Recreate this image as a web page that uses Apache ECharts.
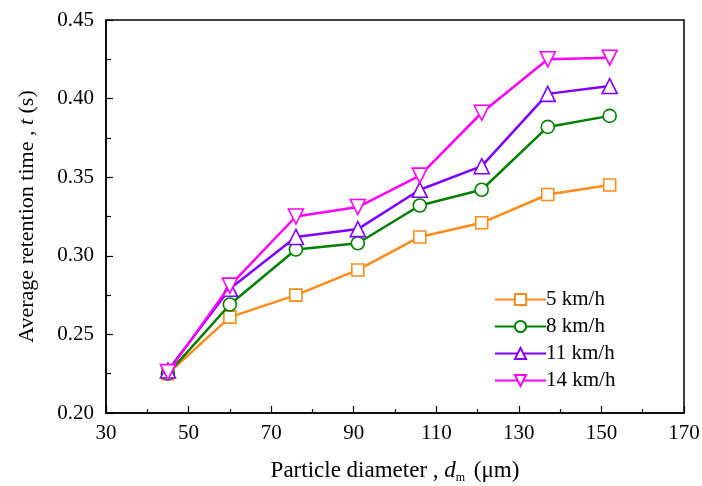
<!DOCTYPE html>
<html>
<head>
<meta charset="utf-8">
<script src="https://cdn.jsdelivr.net/npm/echarts@6/dist/echarts.min.js"></script>
<style>
html,body{margin:0;padding:0;background:#fff;}
#chart{width:702px;height:486px;}
</style>
</head>
<body>
<div id="chart"></div>
<script>
const diameters = [45, 60, 76, 91, 106, 121, 137, 152];
const seriesNames = ['5 km/h', '8 km/h', '11 km/h', '14 km/h'];
const v5  = [0.225, 0.261, 0.275, 0.291, 0.312, 0.321, 0.339, 0.345];
const v8  = [0.225, 0.269, 0.304, 0.308, 0.332, 0.342, 0.382, 0.389];
const v11 = [0.227, 0.279, 0.312, 0.317, 0.342, 0.357, 0.403, 0.408];
const v14 = [0.226, 0.281, 0.325, 0.331, 0.351, 0.391, 0.425, 0.426];
const xTicks = [30, 50, 70, 90, 110, 130, 150, 170];
const yTicks = [0.20, 0.25, 0.30, 0.35, 0.40, 0.45];

const FONT = '"Liberation Serif", "Times New Roman", serif';
const colors = ['#FF8C1A', '#008000', '#8000FF', '#FF00FF'];
const symbols = ['rect', 'circle', 'triangle', 'triangle'];
const sizes = [12, 13, 15, 15];
const rotates = [0, 0, 0, 180];
const values = [v5, v8, v11, v14];

const series = values.map((vals, i) => ({
  name: seriesNames[i],
  type: 'line',
  data: diameters.map((d, j) => [d, vals[j]]),
  symbol: symbols[i],
  symbolSize: sizes[i],
  symbolRotate: rotates[i],
  showAllSymbol: true,
  lineStyle: { color: colors[i], width: 2.5 },
  itemStyle: { color: '#fff', borderColor: colors[i], borderWidth: 1.6 },
  emphasis: { disabled: true },
  z: 2 + i
}));

const chart = echarts.init(document.getElementById('chart'), null, { renderer: 'canvas' });
chart.setOption({
  animation: false,
  backgroundColor: '#fff',
  grid: {
    left: 106, right: 18, top: 20, bottom: 73,
    outerBoundsMode: 'none', containLabel: false,
    show: true, borderColor: '#000', borderWidth: 1.5, backgroundColor: 'transparent'
  },
  legend: {
    orient: 'vertical',
    left: 489, top: 284,
    itemWidth: 51, itemHeight: 14, itemGap: 6,
    data: seriesNames,
    textStyle: { fontFamily: FONT, fontSize: 21, color: '#000', padding: [0, 0, 0, -5] }
  },
  xAxis: {
    type: 'value',
    min: xTicks[0], max: xTicks[xTicks.length - 1], interval: 20,
    name: 'Particle diameter , {i|d}{sub|m} (μm)',
    nameLocation: 'middle', nameGap: 45,
    nameTextStyle: {
      fontFamily: FONT, fontSize: 23, color: '#000',
      rich: {
        i: { fontFamily: FONT, fontSize: 23, fontStyle: 'italic', color: '#000' },
        sub: { fontFamily: FONT, fontSize: 12, color: '#000', verticalAlign: 'bottom', padding: [14, 3, 0, 0] }
      }
    },
    axisLine: { show: true, onZero: false, lineStyle: { color: '#000', width: 1.5 } },
    axisTick: { show: true, inside: true, length: 7, lineStyle: { color: '#000', width: 1.2 } },
    minorTick: { show: true, splitNumber: 2, length: 4, lineStyle: { color: '#000', width: 1.2 } },
    splitLine: { show: false },
    axisLabel: { fontFamily: FONT, fontSize: 21, color: '#000', margin: 10 }
  },
  yAxis: {
    type: 'value',
    min: yTicks[0], max: yTicks[yTicks.length - 1], interval: 0.05,
    name: 'Average retention time , {i|t} (s)',
    nameLocation: 'middle', nameGap: 68,
    nameTextStyle: {
      fontFamily: FONT, fontSize: 22, color: '#000',
      rich: { i: { fontFamily: FONT, fontSize: 22, fontStyle: 'italic', color: '#000' } }
    },
    axisLine: { show: true, onZero: false, lineStyle: { color: '#000', width: 1.5 } },
    axisTick: { show: true, inside: true, length: 7, lineStyle: { color: '#000', width: 1.2 } },
    minorTick: { show: true, splitNumber: 2, length: 5, lineStyle: { color: '#000', width: 1.2 } },
    splitLine: { show: false },
    axisLabel: { fontFamily: FONT, fontSize: 21, color: '#000', margin: 12, formatter: v => v.toFixed(2) }
  },
  series: series
});
</script>
</body>
</html>
